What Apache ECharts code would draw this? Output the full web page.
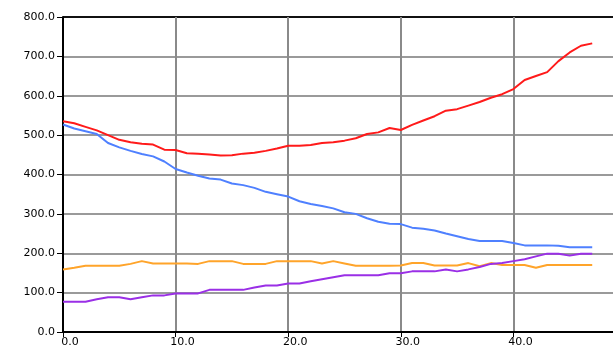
<!DOCTYPE html>
<html>
<head>
<meta charset="utf-8">
<script src="https://cdn.jsdelivr.net/npm/echarts@6/dist/echarts.min.js"></script>
<style>
  html, body { margin: 0; padding: 0; background: #fff; }
  #chart { width: 613px; height: 354px; }
</style>
</head>
<body>
<div id="chart"></div>
<script>
// Sample positions along the horizontal axis
const xValues = [];
for (let i = 0; i <= 47; i++) xValues.push(i);

// Series values, one entry per x position
const redValues = [535, 530, 521, 512, 500, 488, 482, 478, 476, 463, 462, 454, 453, 451, 448, 449,
  453, 455, 460, 466, 473, 473, 475, 480, 482, 486, 492, 503, 507, 518, 513, 526,
  537, 548, 562, 566, 575, 584, 595, 604, 617, 640, 650, 660, 688, 710, 727, 733];
const blueValues = [527, 517, 510, 503, 480, 469, 460, 452, 446, 433, 414, 405, 397, 390, 387, 377,
  373, 366, 356, 350, 344, 332, 325, 320, 314, 304, 300, 289, 280, 275, 274, 265,
  262, 258, 250, 243, 236, 231, 231, 231, 226, 220, 220, 220, 219, 215, 215, 215];
const orangeValues = [159, 163, 168, 168, 168, 168, 173, 180, 174, 174, 174, 174, 173, 180, 180, 180,
  173, 173, 173, 180, 180, 180, 180, 174, 180, 174, 168, 168, 168, 168, 169, 175,
  175, 169, 169, 169, 175, 167, 175, 170, 170, 170, 163, 170, 170, 170, 170, 170];
const purpleValues = [77, 77, 77, 83, 88, 88, 83, 88, 93, 93, 98, 98, 98, 107, 107, 107,
  107, 113, 118, 118, 123, 123, 129, 134, 139, 144, 144, 144, 144, 149, 149, 154,
  154, 154, 159, 154, 159, 165, 173, 175, 180, 185, 192, 199, 199, 194, 199, 199];

// Axis ranges
const xMin = 0, xMax = 50, xStep = 10;
const yMin = 0, yMax = 800, yStep = 100;

function pairs(vals) {
  return vals.map((v, i) => [xValues[i], v]);
}

const chart = echarts.init(document.getElementById('chart'), null, { renderer: 'canvas' });

const labelFont = { color: '#000', fontFamily: 'DejaVu Sans', fontSize: 11 };

// Horizontal grid lines: plain grey, the topmost one acts as the frame edge
const hGridColors = [];
for (let v = yMin; v <= yMax; v += yStep) hGridColors.push(v === yMax ? '#111' : '#9a9a9a');

function lineSeries(vals, color) {
  return {
    type: 'line',
    data: pairs(vals),
    showSymbol: false,
    symbol: 'none',
    lineStyle: { color: color, width: 2 },
    itemStyle: { color: color },
    z: 3
  };
}

chart.setOption({
  animation: false,
  backgroundColor: '#fff',
  grid: {
    left: 63, top: 17, right: -13, bottom: 22,
    containLabel: false,
    outerBoundsMode: 'none'
  },
  xAxis: {
    type: 'value',
    min: xMin, max: xMax, interval: xStep,
    axisLine: { show: true, lineStyle: { color: '#000', width: 2 } },
    axisTick: { show: true, length: 5, lineStyle: { color: '#000', width: 1 } },
    axisLabel: Object.assign({}, labelFont, {
      margin: 5,
      align: 'center',
      padding: [0, 0, 0, 14],
      formatter: v => v.toFixed(1)
    }),
    splitLine: { show: true, lineStyle: { color: '#8a8a8a', width: 2 } }
  },
  yAxis: {
    type: 'value',
    min: yMin, max: yMax, interval: yStep,
    axisLine: { show: true, lineStyle: { color: '#000', width: 2 } },
    axisTick: { show: true, length: 6, lineStyle: { color: '#000', width: 1 } },
    axisLabel: Object.assign({}, labelFont, {
      margin: 8,
      formatter: v => v.toFixed(1)
    }),
    splitLine: { show: true, lineStyle: { color: hGridColors, width: 2 } }
  },
  series: [
    lineSeries(orangeValues, '#ffa42a'),
    lineSeries(blueValues, '#4f80ff'),
    lineSeries(redValues, '#ff1a1a'),
    lineSeries(purpleValues, '#9a2fe6')
  ]
});
</script>
</body>
</html>
